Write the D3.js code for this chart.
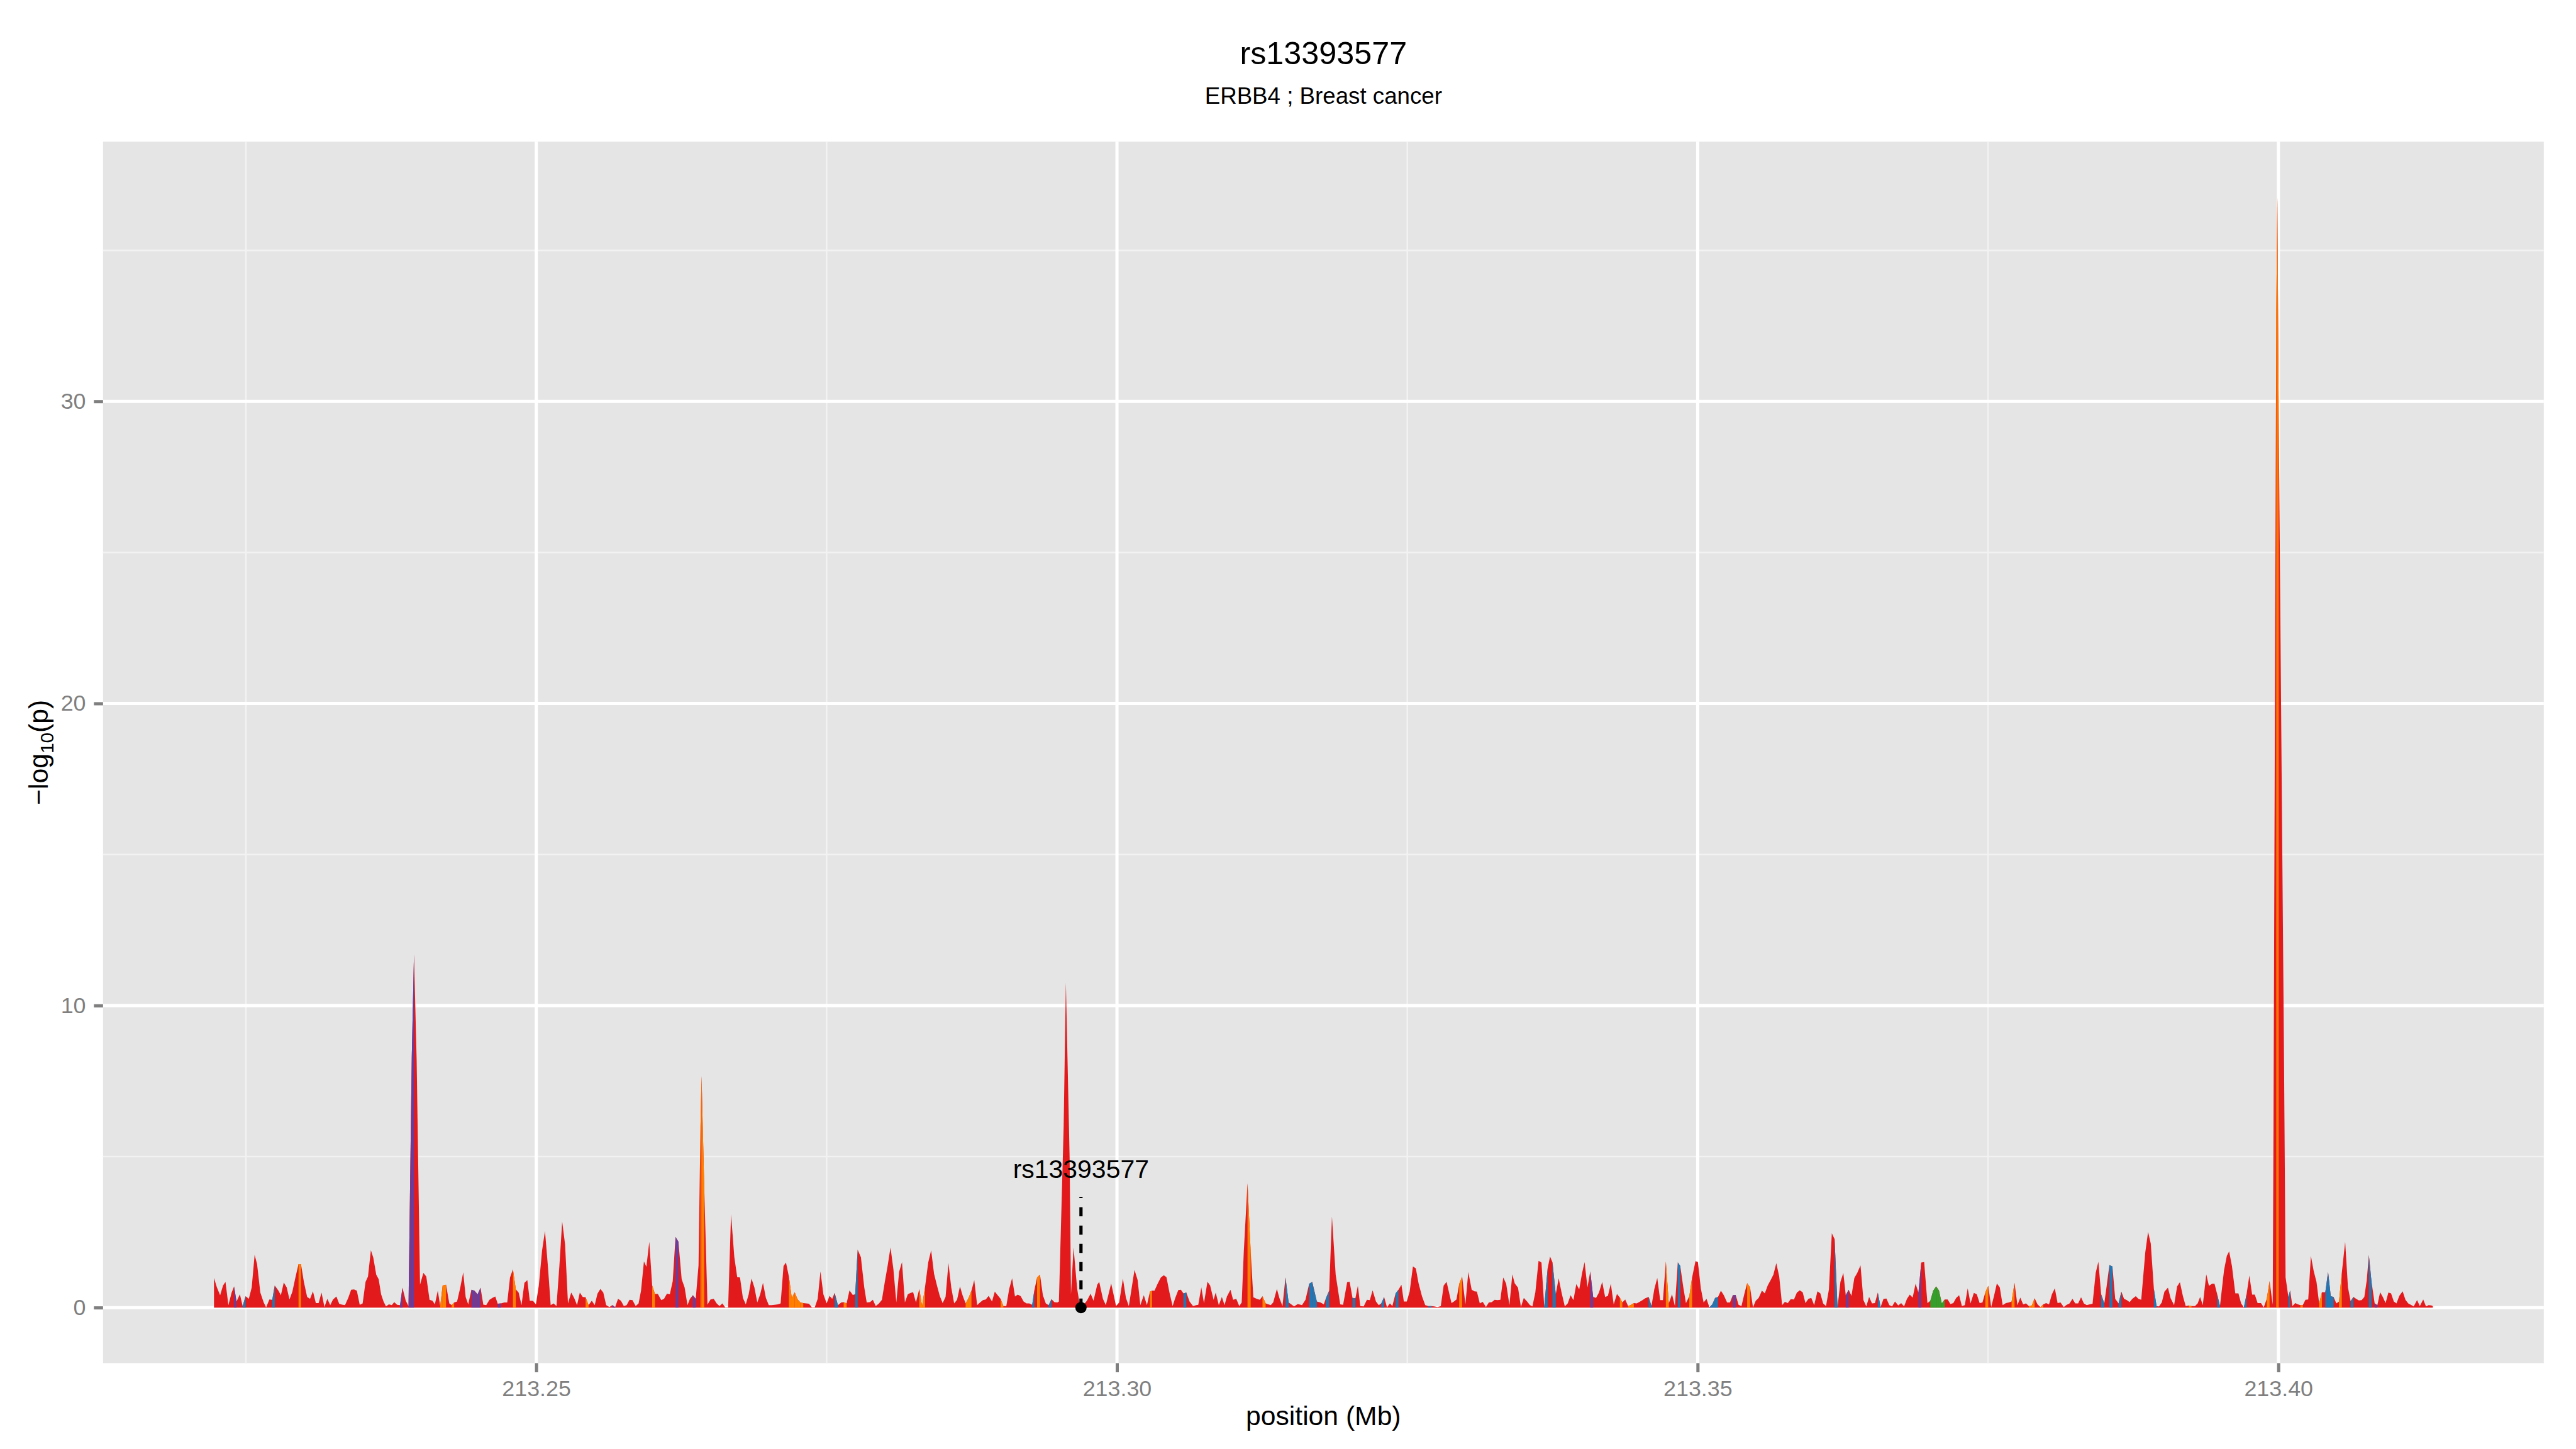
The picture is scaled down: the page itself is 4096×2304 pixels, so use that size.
<!DOCTYPE html>
<html><head><meta charset="utf-8">
<script src="https://cdn.jsdelivr.net/npm/d3@7"></script>
<style>html,body{margin:0;padding:0;background:#fff;overflow:hidden}</style>
</head><body>
<svg id="chart" width="4096" height="2304" viewBox="0 0 4800 2700"></svg>
<script>
// ---------------- data ----------------
const chartTitle = "rs13393577";
const chartSubtitle = "ERBB4 ; Breast cancer";
const xLabel = "position (Mb)";
const xTicks = [213.25, 213.30, 213.35, 213.40];
const yTicks = [0, 10, 20, 30];

const positions = [
213.22225,213.22250,213.22278,213.22303,213.22324,213.22349,213.22377,213.22398,213.22419,213.22448,
213.22472,213.22497,213.22525,213.22550,213.22575,213.22596,213.22624,213.22653,213.22674,213.22702,
213.22727,213.22748,213.22780,213.22801,213.22826,213.22851,213.22875,213.22900,213.22928,213.22953,
213.22974,213.22999,213.23027,213.23052,213.23077,213.23102,213.23126,213.23151,213.23176,213.23201,
213.23226,213.23250,213.23279,213.23303,213.23328,213.23353,213.23381,213.23406,213.23431,213.23455,
213.23480,213.23505,213.23530,213.23551,213.23576,213.23597,213.23622,213.23643,213.23664,213.23685,
213.23706,213.23731,213.23756,213.23777,213.23802,213.23827,213.23848,213.23876,213.23900,213.23928,
213.23947,213.23970,213.23999,213.24028,213.24053,213.24081,213.24106,213.24127,213.24152,213.24173,
213.24194,213.24223,213.24251,213.24272,213.24293,213.24318,213.24346,213.24371,213.24392,213.24414,
213.24442,213.24467,213.24495,213.24520,213.24544,213.24569,213.24597,213.24622,213.24647,213.24668,
213.24696,213.24725,213.24750,213.24774,213.24799,213.24824,213.24848,213.24873,213.24898,213.24923,
213.24944,213.24972,213.24997,213.25022,213.25050,213.25075,213.25100,213.25124,213.25149,213.25174,
213.25199,213.25223,213.25248,213.25273,213.25301,213.25326,213.25351,213.25375,213.25400,213.25425,
213.25450,213.25478,213.25503,213.25527,213.25552,213.25577,213.25602,213.25630,213.25655,213.25679,
213.25704,213.25729,213.25754,213.25778,213.25803,213.25828,213.25856,213.25881,213.25902,213.25927,
213.25948,213.25973,213.25998,213.26022,213.26047,213.26076,213.26100,213.26125,213.26150,213.26175,
213.26199,213.26224,213.26252,213.26277,213.26302,213.26323,213.26348,213.26373,213.26397,213.26414,
213.26423,213.26446,213.26474,213.26500,213.26528,213.26553,213.26578,213.26602,213.26627,213.26652,
213.26677,213.26705,213.26730,213.26754,213.26779,213.26804,213.26829,213.26853,213.26878,213.26903,
213.26928,213.26952,213.26977,213.27002,213.27027,213.27051,213.27080,213.27104,213.27129,213.27150,
213.27175,213.27200,213.27225,213.27249,213.27274,213.27299,213.27324,213.27348,213.27373,213.27398,
213.27423,213.27447,213.27472,213.27500,213.27525,
213.27548,213.27569,213.27597,213.27626,213.27647,213.27672,213.27697,213.27725,213.27746,213.27767,
213.27795,213.27824,213.27845,213.27873,213.27898,213.27923,213.27951,213.27976,213.28001,213.28025,
213.28050,213.28075,213.28100,213.28124,213.28149,213.28174,213.28199,213.28223,213.28245,213.28269,
213.28298,213.28322,213.28347,213.28375,213.28400,213.28425,213.28450,213.28474,213.28499,213.28524,
213.28549,213.28573,213.28598,213.28623,213.28648,213.28672,213.28697,213.28722,213.28747,213.28771,
213.28796,213.28821,213.28846,213.28870,213.28895,213.28924,213.28948,213.28973,213.28998,213.29022,
213.29047,213.29072,213.29097,213.29122,213.29146,213.29171,213.29196,213.29221,213.29245,213.29270,
213.29288,213.29312,213.29337,213.29362,213.29387,213.29412,213.29436,213.29461,213.29486,213.29500,
213.29541,213.29560,213.29592,213.29604,213.29626,213.29657,213.29675,
213.29710,213.29741,213.29773,213.29798,213.29830,213.29847,213.29879,213.29904,213.29950,213.29992,
213.30019,213.30051,213.30077,213.30102,213.30151,213.30178,213.30201,213.30231,213.30258,213.30284,
213.30302,213.30323,213.30350,213.30378,213.30403,213.30426,213.30452,213.30479,213.30502,213.30528,
213.30550,213.30572,213.30597,213.30625,213.30655,213.30682,213.30700,213.30726,213.30749,213.30779,
213.30802,213.30832,213.30850,213.30877,213.30903,213.30926,213.30947,213.30977,213.31000,213.31027,
213.31053,213.31074,213.31092,213.31124,213.31151,213.31174,213.31204,213.31230,213.31253,213.31280,
213.31324,213.31345,213.31377,213.31398,213.31425,213.31451,213.31478,213.31525,213.31557,213.31593,
213.31623,213.31655,213.31681,
213.31721,213.31752,213.31781,213.31798,213.31827,213.31851,213.31883,213.31922,213.31947,213.31982,
213.32003,213.32028,213.32053,213.32074,213.32095,213.32124,213.32152,213.32177,213.32201,213.32230,
213.32254,213.32276,213.32300,213.32325,213.32350,213.32371,213.32399,213.32424,213.32449,213.32470,
213.32495,213.32520,213.32548,213.32573,213.32597,213.32626,213.32654,213.32682,213.32707,213.32732,
213.32760,213.32788,213.32813,213.32838,
213.32880,213.32901,213.32923,213.32947,213.32972,213.33000,213.33025,213.33054,213.33078,213.33099,
213.33124,213.33149,213.33177,213.33202,213.33227,213.33252,213.33276,213.33301,213.33326,213.33351,
213.33379,213.33404,213.33425,213.33453,213.33478,213.33503,213.33531,213.33556,213.33577,213.33602,
213.33630,213.33655,213.33679,213.33708,213.33729,213.33750,213.33778,213.33803,213.33828,213.33856,
213.33881,213.33906,213.33930,213.33955,213.33980,213.34005,213.34026,213.34051,213.34075,213.34100,
213.34125,213.34150,213.34178,213.34203,213.34227,213.34252,213.34277,213.34305,213.34330,213.34351,
213.34376,213.34401,213.34425,213.34450,213.34475,213.34500,213.34525,213.34549,213.34578,213.34602,
213.34627,213.34652,213.34677,213.34701,213.34726,213.34751,213.34779,213.34804,213.34829,213.34850,
213.34875,213.34899,213.34928,213.34952,213.34981,213.35002,213.35027,213.35051,213.35076,213.35101,
213.35126,213.35150,213.35175,213.35200,213.35225,213.35253,213.35278,213.35302,213.35327,213.35352,
213.35377,213.35401,213.35426,213.35451,213.35476,213.35500,213.35525,213.35553,213.35578,213.35603,
213.35628,213.35652,213.35677,213.35702,213.35727,213.35751,213.35776,213.35801,213.35829,213.35854,
213.35879,213.35904,213.35928,213.35953,213.35978,213.36003,213.36031,213.36056,213.36080,213.36105,
213.36130,213.36155,213.36179,213.36204,213.36229,213.36254,213.36275,213.36300,213.36324,213.36349,
213.36374,213.36402,213.36427,213.36452,213.36476,213.36501,213.36526,213.36551,213.36575,213.36600,
213.36625,213.36650,213.36674,213.36699,213.36727,213.36752,213.36777,213.36802,213.36826,213.36851,
213.36876,213.36901,213.36925,213.36950,213.36978,213.37003,213.37028,213.37053,213.37077,213.37102,
213.37127,213.37152,213.37176,213.37201,213.37226,213.37251,213.37275,213.37300,213.37325,213.37349,
213.37378,213.37403,213.37428,213.37452,213.37477,213.37502,213.37527,213.37551,213.37576,213.37601,
213.37626,213.37654,213.37679,213.37703,213.37728,213.37753,213.37778,213.37802,213.37827,213.37852,
213.37877,213.37901,213.37926,213.37951,213.37976,213.38000,213.38025,213.38050,213.38075,213.38099,
213.38124,213.38152,213.38177,213.38202,213.38227,213.38251,213.38276,213.38301,213.38325,213.38350,
213.38375,213.38400,
213.38427,213.38450,213.38474,213.38501,213.38524,213.38545,213.38571,213.38595,213.38624,213.38648,
213.38671,213.38695,213.38719,213.38742,213.38772,213.38795,213.38819,213.38854,213.38878,213.38901,
213.38928,213.38951,213.38972,213.38996,213.39019,213.39049,213.39072,213.39102,213.39128,213.39152,
213.39178,213.39202,213.39228,213.39252,213.39282,213.39305,213.39326,213.39349,213.39379,213.39402,
213.39429,213.39450,213.39473,213.39497,213.39532,213.39556,213.39576,213.39600,213.39629,213.39656,
213.39679,213.39703,213.39726,213.39750,213.39774,213.39797,213.39821,213.39850,213.39874,213.39900,
213.39924,213.39951,213.39958,213.39972,213.39982,213.39991,213.40002,213.40023,213.40049,213.40062,
213.40086,213.40101,213.40121,213.40145,213.40169,213.40189,213.40210,213.40233,213.40257,213.40280,
213.40304,213.40328,213.40351,213.40375,213.40404,213.40428,213.40451,213.40475,213.40499,213.40522,
213.40546,213.40575,213.40599,213.40622,213.40646,213.40670,213.40693,213.40717,213.40740,213.40761,
213.40779,213.40802,213.40829,213.40852,213.40876,213.40899,213.40923,213.40947,213.40970,213.40994,
213.41017,213.41041,213.41070,213.41094,213.41118,213.41141,213.41165,213.41194,213.41218,213.41247,
213.41271,213.41294,213.41318,213.41330
];

const logP = [
0.98,0.67,0.41,0.73,0.85,0.08,0.50,0.70,0.20,0.44,
0.05,0.38,0.29,0.67,1.75,1.44,0.50,0.17,0.01,0.27,
0.26,0.73,0.56,0.41,0.83,0.67,0.27,0.53,1.03,1.44,
1.44,0.85,0.35,0.29,0.54,0.15,0.15,0.50,0.02,0.29,
0.08,0.27,0.37,0.13,0.10,0.08,0.32,0.59,0.60,0.56,
0.09,0.14,0.85,1.03,1.90,1.65,1.09,0.94,0.44,0.20,
0.04,0.11,0.08,0.18,0.09,0.08,0.66,0.23,0.05,8.30,
11.70,8.20,0.76,1.15,1.03,0.26,0.23,0.11,0.56,0.05,
0.73,0.76,0.14,0.08,0.17,0.20,0.67,1.17,0.35,0.11,
0.59,0.56,0.44,0.66,0.10,0.08,0.26,0.32,0.37,0.13,
0.14,0.17,0.17,1.00,1.27,0.60,0.50,0.08,0.82,0.91,
0.23,0.22,0.11,0.73,1.89,2.54,1.38,0.08,0.14,0.05,
1.38,2.85,2.09,0.14,0.50,0.32,0.08,0.50,0.35,0.34,
0.08,0.23,0.08,0.46,0.62,0.50,0.08,0.02,0.08,0.02,
0.29,0.23,0.05,0.08,0.26,0.25,0.05,0.14,0.56,1.53,
1.35,2.18,0.73,0.45,0.45,0.25,0.29,0.46,0.44,0.88,
2.34,2.18,0.94,0.67,0.08,0.29,0.41,0.29,1.40,6.00,
7.67,4.00,0.10,0.27,0.29,0.14,0.05,0.14,0.01,0.01,
3.09,1.68,1.01,1.00,0.32,0.11,0.44,0.96,0.67,0.17,
0.44,0.82,0.32,0.08,0.08,0.09,0.11,0.14,1.38,1.49,
1.03,0.32,0.51,0.28,0.17,0.15,0.14,0.13,0.01,0.01,
0.29,1.20,0.44,0.14,0.39,
0.29,0.49,0.08,0.17,0.18,0.14,0.57,0.42,0.44,1.92,
1.67,0.67,0.17,0.18,0.26,0.05,0.14,0.26,0.85,1.38,
1.99,1.27,0.17,1.18,1.51,0.17,0.44,0.49,0.51,0.17,
0.62,0.05,0.67,1.50,1.90,1.12,0.73,0.39,0.15,0.35,
1.47,0.67,0.14,0.26,0.70,0.39,0.14,0.32,0.56,0.91,
0.08,0.17,0.25,0.27,0.39,0.20,0.53,0.41,0.29,0.05,
0.05,0.62,0.97,0.37,0.43,0.38,0.20,0.14,0.14,0.09,
0.56,1.00,1.09,0.41,0.14,0.08,0.28,0.18,0.17,0.20,
6.00,10.76,5.00,0.44,1.99,0.63,0.20,
0.08,0.23,0.46,0.23,0.76,0.85,0.29,0.08,0.80,0.05,
0.17,0.96,0.32,0.05,1.25,0.91,0.08,0.41,0.08,0.53,
0.56,0.56,0.79,1.00,1.07,1.01,0.50,0.05,0.32,0.58,
0.59,0.47,0.50,0.20,0.05,0.08,0.09,0.67,0.15,0.86,
0.73,0.26,0.50,0.08,0.35,0.08,0.37,0.59,0.26,0.29,
0.05,0.17,1.86,4.12,1.86,0.34,0.29,0.26,0.38,0.14,
0.08,0.17,0.62,0.32,0.05,1.00,0.17,0.04,0.12,0.08,
0.26,0.79,0.85,
0.20,0.17,0.11,0.30,0.56,3.01,1.09,0.11,0.09,0.84,
0.86,0.32,0.31,0.72,0.05,0.04,0.26,0.25,0.57,0.20,
0.08,0.14,0.35,0.01,0.14,0.05,0.47,0.59,0.76,0.20,
0.20,0.53,1.36,1.30,0.80,0.38,0.08,0.05,0.05,0.04,
0.02,0.05,0.73,0.85,
0.15,0.20,0.27,0.79,1.03,0.11,1.18,0.59,0.54,0.53,
0.14,0.19,0.02,0.17,0.18,0.26,0.25,0.26,1.00,0.79,
0.08,1.10,0.80,0.66,0.02,0.32,0.20,0.08,0.04,0.50,
1.55,1.49,0.02,1.30,1.69,1.50,0.44,0.97,0.50,0.04,
0.14,0.41,0.25,0.78,0.60,1.15,1.51,0.67,1.20,0.35,
0.32,0.50,0.85,0.35,0.39,0.79,0.11,0.45,0.33,0.17,
0.27,0.05,0.09,0.15,0.14,0.19,0.25,0.31,0.35,0.05,
0.62,0.98,0.25,0.25,1.53,0.14,0.44,0.05,1.50,1.38,
0.70,0.15,0.38,1.00,1.54,1.51,0.64,0.17,0.29,0.01,
0.11,0.32,0.35,0.56,0.41,0.17,0.17,0.41,0.42,0.09,
0.05,0.44,0.81,0.67,0.01,0.23,0.32,0.56,0.47,0.73,
0.91,1.09,1.47,1.03,0.08,0.19,0.15,0.28,0.27,0.50,
0.57,0.51,0.15,0.29,0.32,0.08,0.54,0.47,0.14,0.05,
0.60,2.46,2.27,0.01,0.85,1.15,0.41,0.59,0.39,0.98,
1.15,1.40,0.25,0.04,0.35,0.14,0.15,0.50,0.02,0.29,
0.30,0.08,0.04,0.20,0.07,0.15,0.04,0.29,0.43,0.33,
0.79,0.50,1.49,1.51,0.15,0.22,0.56,0.70,0.57,0.14,
0.27,0.27,0.12,0.15,0.32,0.41,0.05,0.08,0.64,0.14,
0.49,0.44,0.15,0.17,0.51,0.72,0.02,0.38,0.80,0.67,
0.08,0.15,0.17,0.20,0.82,0.08,0.33,0.11,0.14,0.05,
0.07,0.31,0.11,0.02,0.11,0.15,0.11,0.44,0.64,0.15,
0.17,0.02,0.09,0.14,0.29,0.14,0.14,0.34,0.14,0.08,
0.11,0.13,
1.15,1.52,0.44,0.14,0.79,1.41,1.36,0.29,0.14,0.53,
0.29,0.25,0.18,0.29,0.38,0.29,0.26,1.83,2.51,2.12,
0.62,0.05,0.04,0.17,0.53,0.66,0.31,0.08,0.70,0.84,
0.38,0.05,0.07,0.05,0.05,0.14,0.35,0.08,1.10,0.72,
0.79,0.79,0.44,0.05,1.24,1.71,1.86,1.38,0.47,0.47,
0.14,0.01,0.44,1.06,0.43,0.43,0.15,0.15,0.01,0.29,
0.88,0.10,6.00,22.00,33.00,36.76,30.00,20.00,8.00,1.00,
0.35,0.57,0.05,0.15,0.11,0.08,0.08,0.26,0.27,1.71,
1.21,0.85,0.14,0.51,0.51,1.18,0.38,0.35,0.14,0.20,
1.15,2.18,0.67,0.21,0.35,0.29,0.24,0.25,0.35,0.91,
1.74,0.85,0.14,0.08,0.51,0.35,0.15,0.50,0.47,0.20,
0.14,0.39,0.54,0.26,0.14,0.09,0.04,0.25,0.05,0.27,
0.04,0.08,0.07,0.05
];

// SNPs (by position) whose interval is drawn in a colour other than the default red
const groupPurple = [213.22398,213.23827,213.23900,213.23928,213.24442,213.24467,213.24495,213.24668,
  213.25655,213.26199,213.26348,213.34075,213.35302,213.36275,213.36901,213.40829];
const groupBlue = [213.22472,213.22727,213.27569,213.27746,213.29270,213.29412,213.30572,213.31451,
  213.31655,213.31681,213.31798,213.32028,213.32276,213.32399,213.32682,213.33679,213.33750,213.34578,
  213.34829,213.35101,213.35126,213.35150,213.36179,213.36551,213.38474,213.38545,213.38624,213.38928,
  213.39473,213.39703,213.40086,213.40404,213.40428,213.40451,213.40622,213.40779];
const groupOrange = [213.22953,213.24173,213.24194,213.24272,213.24799,213.25425,213.25998,213.26414,
  213.26423,213.27175,213.27200,213.27225,213.27249,213.27274,213.27647,213.28298,213.28322,213.28697,
  213.28722,213.28998,213.29312,213.30284,213.31124,213.31253,213.32947,213.34330,213.34401,213.34425,
  213.34726,213.34928,213.35426,213.37477,213.37703,213.37852,213.37877,213.37951,213.39228,213.39900,
  213.39982,213.39991,213.40189,213.40351,213.40522];
const groupGreen = [213.37003,213.37028,213.37053,213.37077,213.37102];

const leadSnpName = "rs13393577";
const leadSnpPos = 213.2969;
const leadSnpLineTop = 3.67;   // -log10(p) where the dashed marker ends
const leadSnpLabelY = 4.3;     // -log10(p) at the label baseline

// ---------------- drawing ----------------
if (positions.length !== logP.length) throw new Error("length mismatch " + positions.length + " vs " + logP.length);

const colours = {red:"#E31A1C", orange:"#FF7F00", purple:"#6A3D9A", blue:"#1F78B4", green:"#33A02C"};
const groupOf = new Map();
groupPurple.forEach(p => groupOf.set(p, "purple"));
groupBlue.forEach(p => groupOf.set(p, "blue"));
groupOrange.forEach(p => groupOf.set(p, "orange"));
groupGreen.forEach(p => groupOf.set(p, "green"));
const pts = positions.map((p, i) => ({p, v: logP[i], g: groupOf.get(p) || "red"}));

const svg = d3.select("#chart");
const font = "'Liberation Sans', Arial, Helvetica, sans-serif";
const panel = {left: 192, right: 4740, top: 264, bottom: 2540};

const xExt = d3.extent(positions), yMax = d3.max(logP);
const xPad = (xExt[1] - xExt[0]) * 0.05, yPad = yMax * 0.05;
const x = d3.scaleLinear().domain([xExt[0] - xPad, xExt[1] + xPad]).range([panel.left, panel.right]);
const y = d3.scaleLinear().domain([-yPad, yMax + yPad]).range([panel.bottom, panel.top]);

svg.append("rect").attr("width", 4800).attr("height", 2700).attr("fill", "#fff");
svg.append("rect").attr("x", panel.left).attr("y", panel.top)
  .attr("width", panel.right - panel.left).attr("height", panel.bottom - panel.top).attr("fill", "#E5E5E5");

function minorOf(ticks, dom) {
  const step = ticks[1] - ticks[0];
  const m = [ticks[0] - step / 2].concat(ticks.map(t => t + step / 2));
  return m.filter(v => v > dom[0] && v < dom[1]);
}
const xMinor = minorOf(xTicks, x.domain()), yMinor = minorOf(yTicks, y.domain());
const grid = svg.append("g");
grid.selectAll(".xm").data(xMinor).join("line")
  .attr("x1", d => x(d)).attr("x2", d => x(d)).attr("y1", panel.top).attr("y2", panel.bottom)
  .attr("stroke", "#F2F2F2").attr("stroke-width", 3);
grid.selectAll(".ym").data(yMinor).join("line")
  .attr("y1", d => y(d)).attr("y2", d => y(d)).attr("x1", panel.left).attr("x2", panel.right)
  .attr("stroke", "#F2F2F2").attr("stroke-width", 3);
grid.selectAll(".xM").data(xTicks).join("line")
  .attr("x1", d => x(d)).attr("x2", d => x(d)).attr("y1", panel.top).attr("y2", panel.bottom)
  .attr("stroke", "#FFFFFF").attr("stroke-width", 5.9);
grid.selectAll(".yM").data(yTicks).join("line")
  .attr("y1", d => y(d)).attr("y2", d => y(d)).attr("x1", panel.left).attr("x2", panel.right)
  .attr("stroke", "#FFFFFF").attr("stroke-width", 5.9);

// area
const area = d3.area().x(d => x(d.p)).y0(y(0)).y1(d => y(d.v));
svg.append("path").datum(pts).attr("d", area).attr("fill", colours.red);
const segs = [];
for (let i = 0; i < pts.length - 1; i++) if (pts[i].g !== "red") segs.push({g: pts[i].g, d: [pts[i], pts[i + 1]]});
svg.append("g").selectAll("path").data(segs).join("path")
  .attr("d", s => area(s.d)).attr("fill", s => colours[s.g]);

// lead SNP annotation
svg.append("line").attr("x1", x(leadSnpPos)).attr("x2", x(leadSnpPos))
  .attr("y1", y(0)).attr("y2", y(leadSnpLineTop))
  .attr("stroke", "#000").attr("stroke-width", 6).attr("stroke-dasharray", "17,17");
svg.append("circle").attr("cx", x(leadSnpPos)).attr("cy", y(0)).attr("r", 10.5).attr("fill", "#000");
svg.append("text").attr("x", x(leadSnpPos)).attr("y", y(leadSnpLabelY))
  .attr("text-anchor", "middle").attr("font-family", font).attr("font-size", 48).attr("fill", "#000")
  .text(leadSnpName);

// axes
const xAxis = d3.axisBottom(x).tickValues(xTicks).tickFormat(d3.format(".2f")).tickSize(17).tickPadding(15);
const gx = svg.append("g").attr("transform", `translate(0,${panel.bottom})`).call(xAxis);
const yAxis = d3.axisLeft(y).tickValues(yTicks).tickFormat(d3.format("d")).tickSize(17).tickPadding(15);
const gy = svg.append("g").attr("transform", `translate(${panel.left},0)`).call(yAxis);
[gx, gy].forEach(g => {
  g.select(".domain").remove();
  g.selectAll(".tick line").attr("stroke", "#7F7F7F").attr("stroke-width", 5.9);
  g.selectAll(".tick text").attr("fill", "#7F7F7F").attr("font-size", 42).attr("font-family", font);
});

// titles
const cx = (panel.left + panel.right) / 2;
svg.append("text").attr("x", cx).attr("y", 119).attr("text-anchor", "middle")
  .attr("font-family", font).attr("font-size", 59).attr("fill", "#000").text(chartTitle);
svg.append("text").attr("x", cx).attr("y", 193).attr("text-anchor", "middle")
  .attr("font-family", font).attr("font-size", 43).attr("fill", "#000").text(chartSubtitle);
svg.append("text").attr("x", cx).attr("y", 2655).attr("text-anchor", "middle")
  .attr("font-family", font).attr("font-size", 50).attr("fill", "#000").text(xLabel);
const yt = svg.append("text")
  .attr("transform", `translate(89,${(panel.top + panel.bottom) / 2}) rotate(-90)`)
  .attr("text-anchor", "middle").attr("font-family", font).attr("font-size", 50).attr("fill", "#000");
yt.append("tspan").text("\u2212log");
yt.append("tspan").attr("font-size", 35).attr("dy", 11).text("10");
yt.append("tspan").attr("dy", -11).text("(p)");
</script>
</body></html>
